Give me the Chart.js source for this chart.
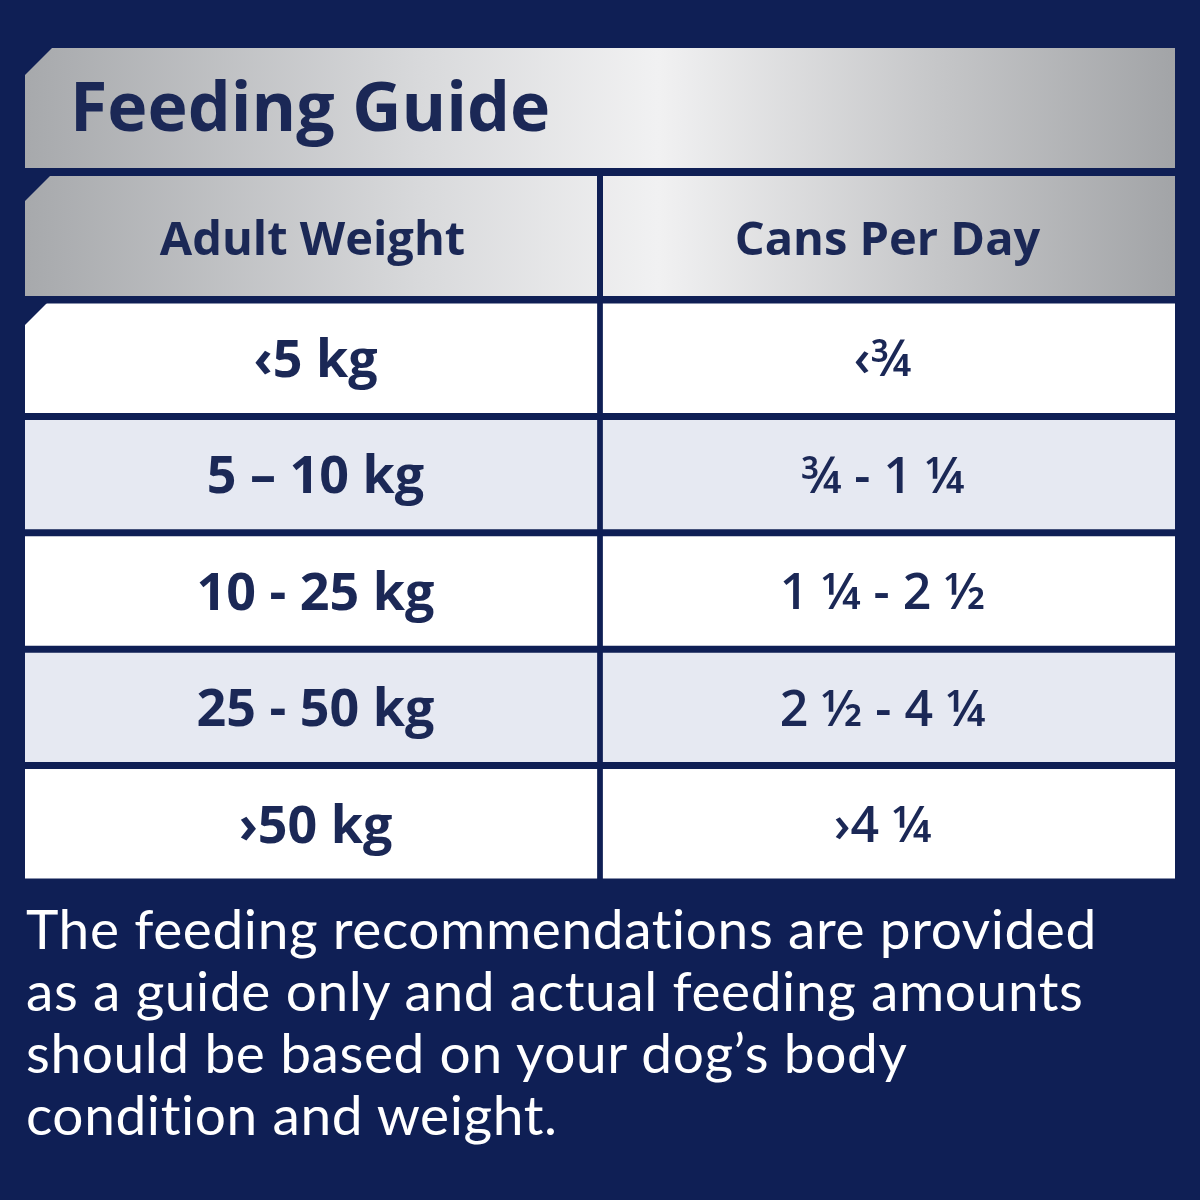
<!DOCTYPE html>
<html><head><meta charset="utf-8">
<script src="https://cdn.jsdelivr.net/npm/chart.js@4"></script>
<style>
html,body{margin:0;padding:0;background:#0f1f55;width:1200px;height:1200px;overflow:hidden}
#wrap{position:relative;width:1200px;height:1200px}
#foot{position:absolute;left:26px;top:897px;width:1170px;color:#fff;font-family:Lato,"Open Sans",sans-serif;font-size:55px;line-height:62px;letter-spacing:0.6px;white-space:nowrap}
</style></head><body>
<div id="wrap"><canvas id="c" width="1200" height="1200"></canvas>
<div id="foot">The feeding recommendations are provided<br>as a guide only and actual feeding amounts<br>should be based on your dog’s body<br>condition and weight.</div></div>
<script>
const title = "Feeding Guide";
const headers = ["Adult Weight", "Cans Per Day"];
const weights = ["‹5 kg", "5 – 10 kg", "10 - 25 kg", "25 - 50 kg", "›50 kg"];
const cans = ["‹¾", "¾ - 1 ¼", "1 ¼ - 2 ½", "2 ½ - 4 ¼", "›4 ¼"];
const rowColors = ["#ffffff", "#e6e9f2", "#ffffff", "#e6e9f2", "#ffffff"];
const NAVY = "#0f1f55", INK = "#1b2856";

function silver(ctx, x0, x1) {
  const g = ctx.createLinearGradient(x0, 0, x1, 0);
  g.addColorStop(0, "#a7a9ac"); g.addColorStop(0.35, "#d9dadc");
  g.addColorStop(0.55, "#f1f1f2"); g.addColorStop(0.8, "#c4c5c7"); g.addColorStop(1, "#a2a4a7");
  return g;
}
function cut(ctx, x, y, s) {
  ctx.fillStyle = NAVY; ctx.beginPath();
  ctx.moveTo(x - 1, y - 1); ctx.lineTo(x + s, y - 1); ctx.lineTo(x - 1, y + s); ctx.closePath(); ctx.fill();
}
const tablePlugin = {
  id: "table",
  beforeDraw(chart) {
    const { ctx, chartArea: a } = chart;
    ctx.save();
    ctx.fillStyle = silver(ctx, a.left, a.right);
    ctx.fillRect(a.left, 48, a.right - a.left, 120);
    cut(ctx, a.left, 48, 28);
    ctx.fillStyle = INK; ctx.font = "bold 68px 'Open Sans'"; ctx.textBaseline = "middle";
    ctx.fillText(title, 70, 112);
    const xs = chart.scales.x;
    const mid = xs.getPixelForValue(1);
    ctx.fillStyle = silver(ctx, a.left, a.right);
    ctx.fillRect(a.left, 176, mid - 3 - a.left, 120);
    ctx.fillRect(mid + 3, 176, a.right - mid - 3, 120);
    cut(ctx, a.left, 176, 26);
    ctx.fillStyle = INK; ctx.font = "bold 47px 'Open Sans'"; ctx.textAlign = "center";
    ctx.fillText(headers[0], (a.left + mid) / 2, 242);
    ctx.fillText(headers[1], (mid + a.right) / 2, 242);
    ctx.restore();
  },
  afterDatasetsDraw(chart) {
    const { ctx, chartArea: a } = chart;
    const ys = chart.scales.y, xs = chart.scales.x;
    ctx.save();
    cut(ctx, a.left, a.top, 26);
    ctx.fillStyle = INK; ctx.textAlign = "center"; ctx.textBaseline = "middle";
    weights.forEach((w, i) => {
      const y = ys.getPixelForValue(i);
      ctx.font = "bold 52px 'Open Sans'";
      ctx.fillText(w, xs.getPixelForValue(0.5) + 3, y + 4);
      ctx.font = "600 50px 'Open Sans'";
      ctx.fillText(cans[i], xs.getPixelForValue(1.5) - 5, y + 4);
    });
    ctx.restore();
  }
};
new Chart(document.getElementById("c"), {
  type: "bar",
  data: {
    labels: weights,
    datasets: [
      { data: weights.map(() => [0, 0.995]), backgroundColor: rowColors, barPercentage: 1, categoryPercentage: 0.94, borderSkipped: false },
      { data: cans.map(() => [1.005, 2]), backgroundColor: rowColors, barPercentage: 1, categoryPercentage: 0.94, borderSkipped: false }
    ]
  },
  options: {
    indexAxis: "y", responsive: false, animation: false, devicePixelRatio: 1,
    layout: { padding: { top: 300, bottom: 318, left: 25, right: 25 } },
    plugins: { legend: { display: false }, tooltip: { enabled: false } },
    scales: {
      x: { display: false, min: 0, max: 2 },
      y: { display: false, stacked: true, grid: { display: false } }
    }
  },
  plugins: [tablePlugin]
});
</script></body></html>
